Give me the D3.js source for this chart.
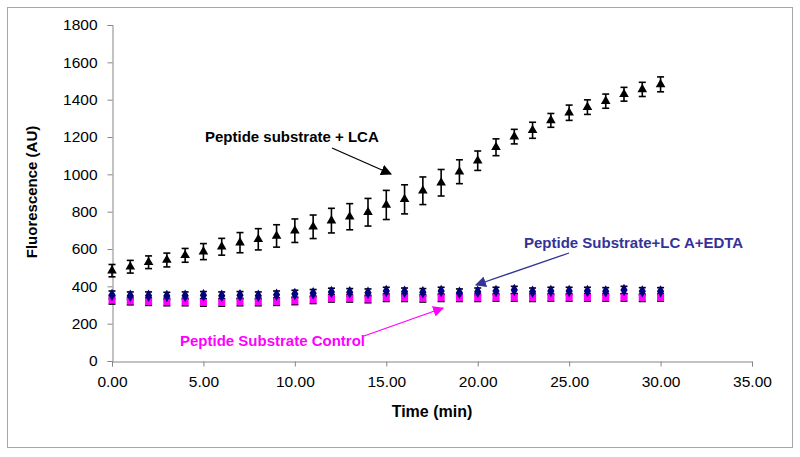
<!DOCTYPE html>
<html><head><meta charset="utf-8">
<script src="https://cdn.jsdelivr.net/npm/d3@7"></script>
<style>body{margin:0;background:#fff}svg{display:block;font-family:Arial,"Liberation Sans",sans-serif}</style>
</head><body><svg id="c" width="800" height="457"></svg>
<script>
const times = d3.range(0, 31); // minutes 0..30
const lcaValues = [484,505,529,541,566,586,612,634,652,670,698,719,752,773,797,836,866,912,955,1014,1073,1145,1202,1236,1289,1330,1360,1392,1429,1455,1482];
const lcaErrors = [33,34,34,37,37,43,45,54,57,60,63,63,66,70,74,78,78,74,71,64,52,45,39,43,37,41,39,38,37,38,40];
const edtaValues = [354,350,350,348,350,352,350,352,350,355,359,363,370,368,366,375,371,368,375,366,371,375,380,371,375,375,375,373,380,373,373];
const edtaErrors = [21,20,20,20,20,20,20,20,20,20,20,20,20,20,20,20,20,20,20,20,20,20,20,20,20,20,20,20,20,20,20];
const ctrlValues = [327,321,318,316,316,314,314,316,316,318,322,328,336,336,332,339,339,336,339,339,339,341,341,339,341,341,341,341,341,339,341];
const ctrlErrors = [22,20,20,20,20,20,20,20,20,20,20,20,20,20,20,20,20,20,20,20,20,20,20,20,20,20,20,20,20,20,20];
const xTicks = [0,5,10,15,20,25,30,35];
const yTicks = [0,200,400,600,800,1000,1200,1400,1600,1800];

const svg = d3.select('#c');
svg.append('rect').attr('x',7.5).attr('y',7.5).attr('width',785).attr('height',440)
  .attr('fill','#fff').attr('stroke','#a6a6a6').attr('stroke-width',1);

const x = d3.scaleLinear().domain([0,35]).range([112,752]);
const y = d3.scaleLinear().domain([0,1800]).range([361,25]);

const axisColor = '#868686';
const gx = svg.append('g').attr('transform','translate(0,361.5)')
  .call(d3.axisBottom(x).tickValues(xTicks).tickFormat(d3.format('.2f')).tickSize(5).tickPadding(9));
const gy = svg.append('g').attr('transform','translate(112.5,0)')
  .call(d3.axisLeft(y).tickValues(yTicks).tickSize(5).tickPadding(10).tickFormat(d=>d));
[gx,gy].forEach(g=>{
  g.select('.domain').attr('stroke',axisColor);
  g.selectAll('.tick line').attr('stroke',axisColor);
  g.selectAll('.tick text').attr('fill','#000').attr('font-size','15.5px').attr('font-family','Arial,"Liberation Sans",sans-serif');
});

svg.append('text').attr('x',432).attr('y',417).attr('text-anchor','middle')
  .attr('font-weight','bold').attr('font-size','16px').text('Time (min)');
svg.append('text').attr('transform','translate(37,192) rotate(-90)').attr('text-anchor','middle')
  .attr('font-weight','bold').attr('font-size','15px').text('Fluorescence (AU)');

function errorBars(vals, errs){
  const g = svg.append('g').attr('stroke','#000').attr('stroke-width',1.6);
  times.forEach((t,i)=>{
    const cx = x(t), y1 = y(vals[i]+errs[i]), y2 = y(vals[i]-errs[i]);
    g.append('line').attr('x1',cx).attr('x2',cx).attr('y1',y1).attr('y2',y2);
    g.append('line').attr('x1',cx-3.5).attr('x2',cx+3.5).attr('y1',y1).attr('y2',y1);
    g.append('line').attr('x1',cx-3.5).attr('x2',cx+3.5).attr('y1',y2).attr('y2',y2);
  });
}
errorBars(ctrlValues, ctrlErrors);
errorBars(edtaValues, edtaErrors);
errorBars(lcaValues, lcaErrors);

function markers(vals, type, size, color){
  const sym = d3.symbol().type(type).size(size);
  svg.append('g').selectAll('path').data(times).join('path')
    .attr('transform',(t,i)=>`translate(${x(t)},${y(vals[i])})`)
    .attr('d',sym).attr('fill',color);
}
markers(ctrlValues, d3.symbolSquare, 50, '#ff00ff');
markers(edtaValues, d3.symbolDiamond, 45, '#000080');
markers(lcaValues, d3.symbolTriangle, 40, '#000');

// annotations
const defs = svg.append('defs');
function marker(id,color){
  defs.append('marker').attr('id',id).attr('viewBox','0 0 10 10').attr('refX',9).attr('refY',5)
    .attr('markerWidth',11).attr('markerHeight',11).attr('markerUnits','userSpaceOnUse').attr('orient','auto')
    .append('path').attr('d','M0,0L10,5L0,10z').attr('fill',color);
}
marker('aBlack','#000'); marker('aNavy','#333399'); marker('aMag','#ff00ff');

svg.append('text').attr('x',205).attr('y',142).attr('font-weight','bold').attr('font-size','15px').attr('fill','#000').text('Peptide substrate + LCA');
svg.append('line').attr('x1',332).attr('y1',148).attr('x2',391).attr('y2',174).attr('stroke','#000').attr('stroke-width',1.3).attr('marker-end','url(#aBlack)');

svg.append('text').attr('x',524).attr('y',248).attr('font-weight','bold').attr('font-size','15px').attr('fill','#333399').text('Peptide Substrate+LC A+EDTA');
svg.append('line').attr('x1',569).attr('y1',253).attr('x2',476).attr('y2',285).attr('stroke','#333399').attr('stroke-width',1.3).attr('marker-end','url(#aNavy)');

svg.append('text').attr('x',180).attr('y',346).attr('font-weight','bold').attr('font-size','15px').attr('fill','#ff00ff').text('Peptide Substrate Control');
svg.append('line').attr('x1',364).attr('y1',336).attr('x2',443).attr('y2',308).attr('stroke','#ff00ff').attr('stroke-width',1.3).attr('marker-end','url(#aMag)');
</script></body></html>
